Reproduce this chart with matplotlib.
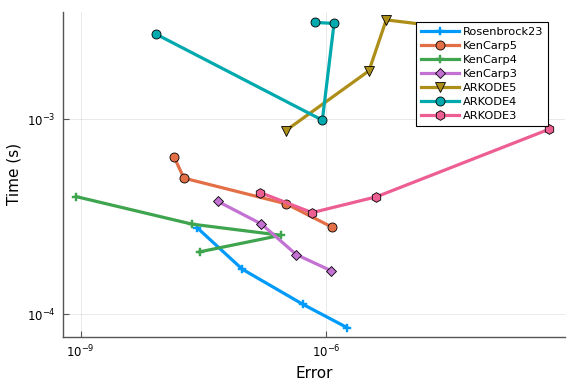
import numpy as np
import matplotlib
matplotlib.use("Agg")
import matplotlib.pyplot as plt
from matplotlib.ticker import FixedLocator, NullLocator

# values (log10 of error and of time)
names = ["Rosenbrock23", "KenCarp5", "KenCarp4", "KenCarp3", "ARKODE5", "ARKODE4", "ARKODE3"]
rosenbrock23_err = [-7.577, -7.024, -6.283, -5.744]
rosenbrock23_time = [-3.556, -3.769, -3.949, -4.068]
kencarp5_err = [-7.859, -7.738, -6.487, -5.928]
kencarp5_time = [-3.193, -3.302, -3.434, -3.553]
kencarp4_err = [-9.054, -7.639, -6.553, -7.545]
kencarp4_time = [-3.397, -3.538, -3.595, -3.680]
kencarp3_err = [-7.325, -6.791, -6.364, -5.942]
kencarp3_time = [-3.421, -3.537, -3.694, -3.776]
arkode5_err = [-6.490, -5.475, -5.264, -4.239]
arkode5_time = [-3.058, -2.752, -2.491, -2.543]
arkode4_err = [-8.079, -6.045, -5.902, -6.140]
arkode4_time = [-2.564, -3.005, -2.509, -2.504]
arkode3_err = [-6.804, -6.171, -5.385, -3.270]
arkode3_time = [-3.376, -3.479, -3.398, -3.051]

errs = [rosenbrock23_err, kencarp5_err, kencarp4_err, kencarp3_err, arkode5_err, arkode4_err, arkode3_err]
times = [rosenbrock23_time, kencarp5_time, kencarp4_time, kencarp3_time, arkode5_time, arkode4_time, arkode3_time]
colors = ["#009AFA", "#E36F47", "#3EA44E", "#C371D2", "#AC8E18", "#00A9AD", "#ED5E93"]
markers = ["P", "o", "P", "D", "v", "o", "h"]
msizes = [5.5, 6.5, 5.5, 5.5, 7, 6.5, 7]

fig = plt.figure(figsize=(5.76, 3.84), dpi=100)
W, H = 576, 384
left, right, top, bottom = 62.7, 565, 11.7, 336.7
ax = fig.add_axes([left / W, 1 - bottom / H, (right - left) / W, (bottom - top) / H])

for name, e, t, c, m, ms in zip(names, errs, times, colors, markers, msizes):
    x = 10 ** np.array(e)
    y = 10 ** np.array(t)
    if m == "P":
        ax.plot(x, y, color=c, lw=2.3, marker=m, ms=ms, mec=c, mew=0.3, label=name)
    else:
        ax.plot(x, y, color=c, lw=2.3, marker=m, ms=ms, mec="black", mew=0.6, label=name)

ax.set_xscale("log")
ax.set_yscale("log")
ax.set_xlim(10 ** -9.22, 10 ** -3.078)
ax.set_ylim(10 ** -4.115, 10 ** -2.449)
ax.xaxis.set_major_locator(FixedLocator([1e-9, 1e-6]))
ax.yaxis.set_major_locator(FixedLocator([1e-4, 1e-3]))
ax.xaxis.set_minor_locator(NullLocator())
ax.yaxis.set_minor_locator(NullLocator())
ax.set_xticklabels([r"$10^{-9}$", r"$10^{-6}$"])
ax.set_yticklabels([r"$10^{-4}$", r"$10^{-3}$"])

ax.grid(True, color="black", alpha=0.1, lw=0.6)
ax.set_axisbelow(True)
for s in ["top", "right"]:
    ax.spines[s].set_visible(False)
for s in ["left", "bottom"]:
    ax.spines[s].set_color("#555555")
    ax.spines[s].set_linewidth(1.0)
ax.tick_params(direction="in", length=4, width=0.8, color="#555555", labelsize=8.5, pad=5)

ax.set_xlabel("Error", fontsize=11, labelpad=4)
ax.set_ylabel("Time (s)", fontsize=11, labelpad=4)

leg = ax.legend(loc="upper right", bbox_to_anchor=(0.9655, 0.968), borderaxespad=0,
                fancybox=False, framealpha=1, edgecolor="black", fontsize=8.2,
                labelspacing=0.36, handlelength=3.3, handletextpad=0.35,
                borderpad=0.4)
leg.get_frame().set_linewidth(0.8)

fig.savefig("out.png", dpi=100)
